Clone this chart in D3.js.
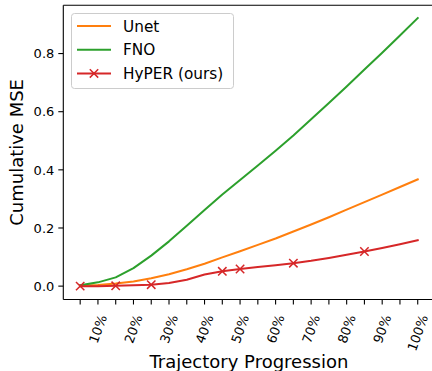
<!DOCTYPE html>
<html lang="en">
  <head>
    <meta charset="UTF-8" />
    <title>Cumulative MSE</title>
    <script src="https://d3js.org/d3.v7.min.js"></script>
    <style>
      body {
        margin: 0;
        background: #fff;
      }
      svg text {
        font-family: "DejaVu Sans", sans-serif;
        fill: #000;
      }
    </style>
  </head>
  <body>
    <svg id="svg" width="432" height="371"></svg>

    <script>
      // x positions: 20 steps, labels every other step
      const steps = d3.range(20);
      const tickLabels = ["10%", "20%", "30%", "40%", "50%", "60%", "70%", "80%", "90%", "100%"];
      const labelSteps = [1, 3, 5, 7, 9, 11, 13, 15, 17, 19];

      const unet = [0.002, 0.004, 0.009, 0.016, 0.027, 0.041, 0.058, 0.077, 0.099, 0.12,
        0.142, 0.164, 0.188, 0.212, 0.237, 0.263, 0.289, 0.315, 0.341, 0.367];
      const fno = [0.003, 0.013, 0.03, 0.062, 0.105, 0.154, 0.208, 0.262, 0.315, 0.365,
        0.415, 0.466, 0.518, 0.574, 0.63, 0.687, 0.745, 0.803, 0.862, 0.922];
      const hyper = [0.0, 0.0, 0.001, 0.003, 0.005, 0.011, 0.022, 0.04, 0.051, 0.059,
        0.066, 0.072, 0.079, 0.087, 0.097, 0.108, 0.119, 0.131, 0.144, 0.158];
      const hyperMarks = [0, 2, 4, 8, 9, 12, 16];

      const yTicks = [0.0, 0.2, 0.4, 0.6, 0.8];

      const series = [
        { name: "Unet", values: unet, color: "#ff7f0e" },
        { name: "FNO", values: fno, color: "#2ca02c" },
        { name: "HyPER (ours)", values: hyper, color: "#d62728", marks: hyperMarks },
      ];

      const svg = d3.select("#svg");
      const pLeft = 63.3, pRight = 434.6, pTop = 5.3, pBottom = 299.5;

      const x = d3.scaleLinear().domain([-0.95, 19.95]).range([pLeft, pRight]);
      const y = d3.scaleLinear().domain([-0.046, 0.966]).range([pBottom, pTop]);

      // lines
      const line = d3.line()
        .x((d, i) => x(i))
        .y((d) => y(d));

      series.forEach((s) => {
        svg.append("path")
          .attr("d", line(s.values))
          .attr("fill", "none")
          .attr("stroke", s.color)
          .attr("stroke-width", 2)
          .attr("stroke-linejoin", "round")
          .attr("stroke-linecap", "square");
      });

      function cross(g, cx, cy, r, color) {
        g.append("path")
          .attr("d", `M${cx - r},${cy - r}L${cx + r},${cy + r}M${cx - r},${cy + r}L${cx + r},${cy - r}`)
          .attr("stroke", color)
          .attr("stroke-width", 1.5)
          .attr("fill", "none");
      }

      const markG = svg.append("g");
      hyperMarks.forEach((i) => cross(markG, x(i), y(hyper[i]), 4.2, "#d62728"));

      // spines
      const axisG = svg.append("g").attr("stroke", "#000").attr("stroke-width", 1.1);
      axisG.append("line").attr("x1", pLeft).attr("x2", pLeft).attr("y1", pTop).attr("y2", pBottom);
      axisG.append("line").attr("x1", pLeft).attr("x2", pRight).attr("y1", pTop).attr("y2", pTop);
      axisG.append("line").attr("x1", pLeft).attr("x2", pRight).attr("y1", pBottom).attr("y2", pBottom);

      // y ticks
      yTicks.forEach((t) => {
        const yy = y(t);
        svg.append("line")
          .attr("x1", pLeft - 5).attr("x2", pLeft)
          .attr("y1", yy).attr("y2", yy)
          .attr("stroke", "#000").attr("stroke-width", 1.1);
        svg.append("text")
          .attr("x", pLeft - 9)
          .attr("y", yy)
          .attr("dy", "0.36em")
          .attr("text-anchor", "end")
          .style("font-size", "13px")
          .text(t.toFixed(1));
      });

      // x ticks
      steps.forEach((i) => {
        svg.append("line")
          .attr("x1", x(i)).attr("x2", x(i))
          .attr("y1", pBottom).attr("y2", pBottom + 5)
          .attr("stroke", "#000").attr("stroke-width", 1.1);
      });

      const ang = 70 * Math.PI / 180;
      labelSteps.forEach((i, k) => {
        const t = svg.append("text")
          .attr("text-anchor", "middle")
          .attr("dy", "0.35em")
          .style("font-size", "13px")
          .text(tickLabels[k]);
        const w = t.node().getComputedTextLength();
        const h = 13 * 1.1;
        const bh = w * Math.sin(ang) + h * Math.cos(ang);
        const cx = x(i), cy = 313 + bh / 2;
        t.attr("x", cx).attr("y", cy).attr("transform", `rotate(-70,${cx},${cy})`);
      });

      // axis labels
      svg.append("text")
        .attr("transform", `translate(17,${(pTop + pBottom) / 2}) rotate(-90)`)
        .attr("text-anchor", "middle")
        .attr("dy", "0.35em")
        .style("font-size", "18px")
        .text("Cumulative MSE");

      svg.append("text")
        .attr("x", (pLeft + pRight) / 2)
        .attr("y", 368)
        .attr("text-anchor", "middle")
        .style("font-size", "18px")
        .text("Trajectory Progression");

      // legend
      const lg = svg.append("g");
      lg.append("rect")
        .attr("x", 71.5).attr("y", 13.5)
        .attr("width", 162).attr("height", 75)
        .attr("rx", 3)
        .attr("fill", "#fff").attr("fill-opacity", 0.8)
        .attr("stroke", "#ccc").attr("stroke-width", 1);
      series.forEach((s, k) => {
        const ly = 26 + k * 23.7;
        lg.append("line")
          .attr("x1", 77).attr("x2", 111)
          .attr("y1", ly).attr("y2", ly)
          .attr("stroke", s.color).attr("stroke-width", 2);
        if (s.marks) cross(lg, 94, ly, 4.2, s.color);
        lg.append("text")
          .attr("x", 123).attr("y", ly)
          .attr("dy", "0.36em")
          .style("font-size", "15.3px")
          .text(s.name);
      });
    </script>
  </body>
</html>
